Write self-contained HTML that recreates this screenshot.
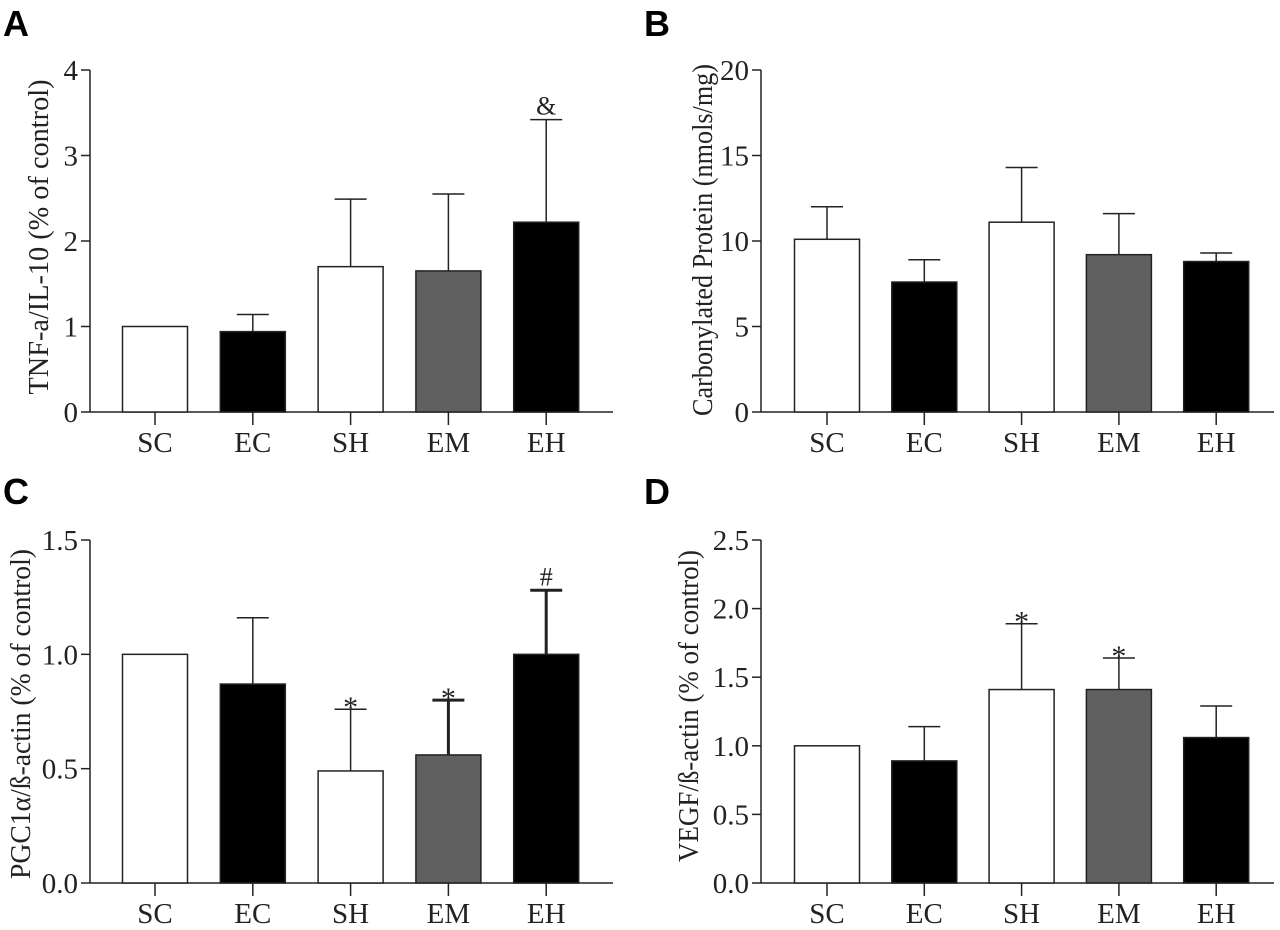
<!DOCTYPE html>
<html><head><meta charset="utf-8"><style>
body{margin:0;background:#fff;}
svg{display:block;}
text{font-family:"Liberation Serif",serif;fill:#222;}
.letter{font-family:"Liberation Sans",sans-serif;font-weight:bold;font-size:36px;fill:#000;}
</style></head><body>
<svg id="fig" width="1280" height="930" viewBox="0 0 1280 930" xmlns="http://www.w3.org/2000/svg"></svg>
<script>
const categories = ["SC","EC","SH","EM","EH"];
const fills = ["#fff","#000","#fff","#606060","#000"];
const aValues = [1.0,0.94,1.70,1.65,2.22];
const aErrTop = [1.0,1.14,2.49,2.55,3.42];
const aMarks = ["","","","","&"];
const aTicks = [0,1,2,3,4];
const aTickLabels = ["0","1","2","3","4"];
const bValues = [10.1,7.6,11.1,9.2,8.8];
const bErrTop = [12.0,8.9,14.3,11.6,9.3];
const bMarks = ["","","","",""];
const bTicks = [0,5,10,15,20];
const bTickLabels = ["0","5","10","15","20"];
const cValues = [1.0,0.87,0.49,0.56,1.0];
const cErrTop = [1.0,1.16,0.76,0.80,1.28];
const cMarks = ["","","*","*","#"];
const cTicks = [0,0.5,1.0,1.5];
const cTickLabels = ["0.0","0.5","1.0","1.5"];
const dValues = [1.0,0.89,1.41,1.41,1.06];
const dErrTop = [1.0,1.14,1.89,1.64,1.29];
const dMarks = ["","","*","*",""];
const dTicks = [0,0.5,1.0,1.5,2.0,2.5];
const dTickLabels = ["0.0","0.5","1.0","1.5","2.0","2.5"];

const NS="http://www.w3.org/2000/svg";
const svg=document.getElementById('fig');
function mk(tag,attrs,parent){const e=document.createElementNS(NS,tag);for(const k in attrs)e.setAttribute(k,attrs[k]);(parent||svg).appendChild(e);return e;}

function panel(o){
  const g=mk('g',{});
  
  
  const ymax=o.ticks[o.ticks.length-1];
  const y=v=>o.y0-(v/ymax)*(o.y0-o.yTop);
  const x=i=>o.cx0+i*o.step;
  const lt=mk('text',{x:o.lx,y:o.ly,class:'letter'},g);lt.textContent=o.letter;
  
  
  const ya=mk('line',{x1:o.ax,y1:o.yTop,x2:o.ax,y2:o.y0,stroke:'#222','stroke-width':1.5},g);
  
  
  const xa=mk('line',{x1:o.ax,y1:o.y0,x2:o.axEnd,y2:o.y0,stroke:'#222','stroke-width':1.5},g);
  
  
  o.ticks.forEach((t,i)=>{
    mk('line',{x1:o.ax-9,y1:y(t),x2:o.ax,y2:y(t),stroke:'#222','stroke-width':1.5},g);
    const tl=mk('text',{x:o.ax-12,y:y(t)+10,'text-anchor':'end','font-size':29},g);
    tl.textContent=o.tickLabels[i];
    
    
  });
  const yt=mk('text',{x:0,y:0,'text-anchor':'middle','font-size':28,textLength:o.titleLen,lengthAdjust:'spacingAndGlyphs',transform:`translate(${o.titleX},${o.titleCY}) rotate(-90)`},g);
  yt.textContent=o.title;
  
  
  categories.forEach((c,i)=>{
    const cx=x(i), w=65;
    const et=y(o.err[i]), bt=y(o.values[i]);
    if(o.err[i]>o.values[i]){
      const sw=o.thick[i]?3:1.5;
      mk('line',{x1:cx,y1:et,x2:cx,y2:bt,stroke:'#222','stroke-width':sw},g);
      mk('line',{x1:cx-16,y1:et,x2:cx+16,y2:et,stroke:'#222','stroke-width':sw},g);
    }
    const r=mk('rect',{x:cx-w/2,y:bt,width:w,height:o.y0-bt,fill:fills[i],stroke:'#222','stroke-width':1.5},g);
    
    
    mk('line',{x1:cx,y1:o.y0,x2:cx,y2:o.y0+13,stroke:'#222','stroke-width':1.5},g);
    const xl=mk('text',{x:cx,y:o.y0+40,'text-anchor':'middle','font-size':29},g);
    xl.textContent=c;
    
    
    if(o.marks[i]){
      const star=o.marks[i]==='*';
      const m=mk('text',{x:cx,y:et-(star?-8:5),'text-anchor':'middle','font-size':star?30:26},g);
      m.textContent=o.marks[i];
      
      
    }
  });
}
panel({id:'panel-a',letter:'A',lx:3,ly:36,ax:90,axEnd:613,cx0:155,step:97.8,yTop:70,y0:412,ticks:aTicks,tickLabels:aTickLabels,values:aValues,err:aErrTop,marks:aMarks,thick:[0,0,0,0,0],title:'TNF-a/IL-10 (% of control)',titleX:48,titleCY:237,titleLen:315});
panel({id:'panel-b',letter:'B',lx:644,ly:36,ax:761,axEnd:1274,cx0:827,step:97.3,yTop:70,y0:412,ticks:bTicks,tickLabels:bTickLabels,values:bValues,err:bErrTop,marks:bMarks,thick:[0,0,0,0,0],title:'Carbonylated Protein (nmols/mg)',titleX:712,titleCY:240,titleLen:352});
panel({id:'panel-c',letter:'C',lx:3,ly:504,ax:90,axEnd:613,cx0:155,step:97.8,yTop:540,y0:883,ticks:cTicks,tickLabels:cTickLabels,values:cValues,err:cErrTop,marks:cMarks,thick:[0,0,0,1,1],title:'PGC1\u03b1/\u00df-actin (% of control)',titleX:30,titleCY:714,titleLen:330});
panel({id:'panel-d',letter:'D',lx:644,ly:504,ax:761,axEnd:1274,cx0:827,step:97.3,yTop:540,y0:883,ticks:dTicks,tickLabels:dTickLabels,values:dValues,err:dErrTop,marks:dMarks,thick:[0,0,0,0,0],title:'VEGF/\u00df-actin (% of control)',titleX:698,titleCY:706,titleLen:312});
</script>
</body></html>
